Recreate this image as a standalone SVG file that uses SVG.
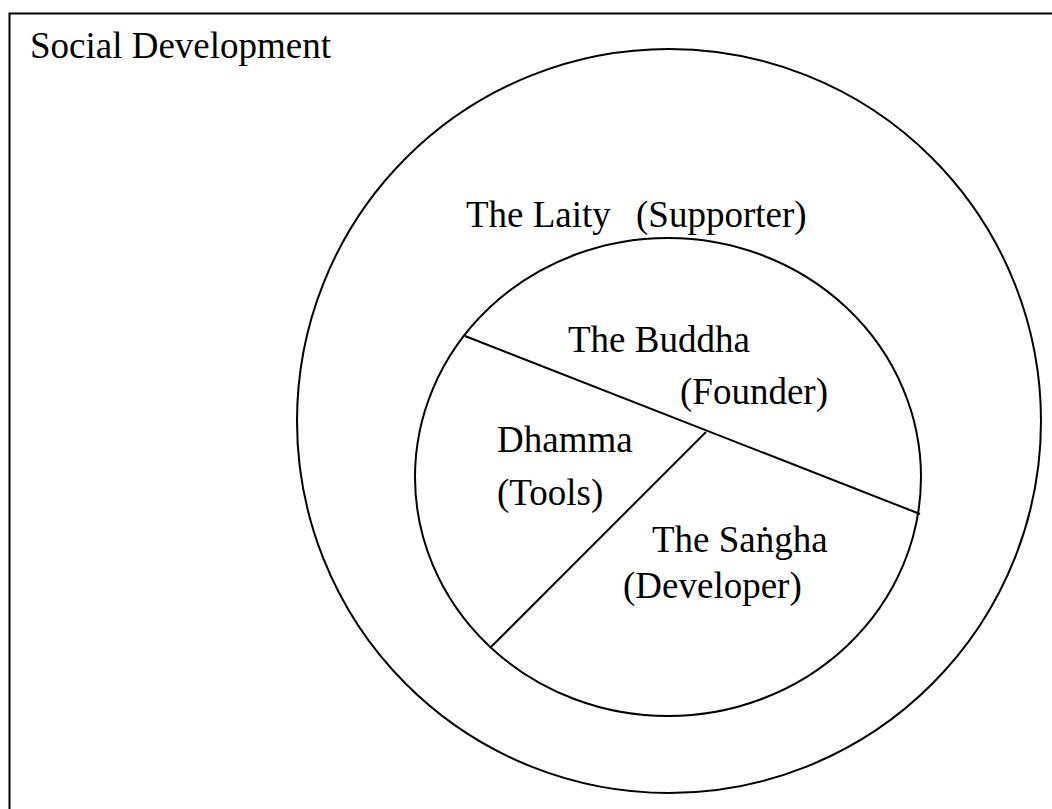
<svg xmlns="http://www.w3.org/2000/svg" width="1052" height="809" viewBox="0 0 1052 809">
  <style>
    .shape { fill: none; stroke: #000; stroke-width: 2; }
    .lbl { font-family: 'Liberation Serif', Tinos, 'Times New Roman', Times, 'DejaVu Serif', serif; font-size: 37px; fill: #000; }
  </style>
  <rect width="1052" height="809" fill="#fff"/>
  <g id="frame">
    <rect class="shape" x="9.5" y="13.5" width="1100" height="900"/>
    <text class="lbl" x="30" y="58">Social Development</text>
  </g>
  <g id="laity">
    <circle class="shape" cx="669" cy="421" r="372"/>
    <text class="lbl" x="466" y="227">The Laity<tspan x="636">(Supporter)</tspan></text>
  </g>
  <g id="core">
    <ellipse class="shape" cx="668" cy="477" rx="253" ry="239"/>
  </g>
  <g id="connectors">
    <line class="shape" x1="465" y1="336" x2="920" y2="514"/>
    <line class="shape" x1="706" y1="432" x2="490" y2="648"/>
  </g>
  <g id="buddha">
    <text class="lbl" x="568" y="352">The Buddha</text>
    <text class="lbl" x="680" y="404">(Founder)</text>
  </g>
  <g id="dhamma">
    <text class="lbl" x="497" y="452">Dhamma</text>
    <text class="lbl" x="497" y="505">(Tools)</text>
  </g>
  <g id="sangha">
    <text class="lbl" x="652" y="552">The Saṅgha</text>
    <text class="lbl" x="623" y="598">(Developer)</text>
  </g>
</svg>
